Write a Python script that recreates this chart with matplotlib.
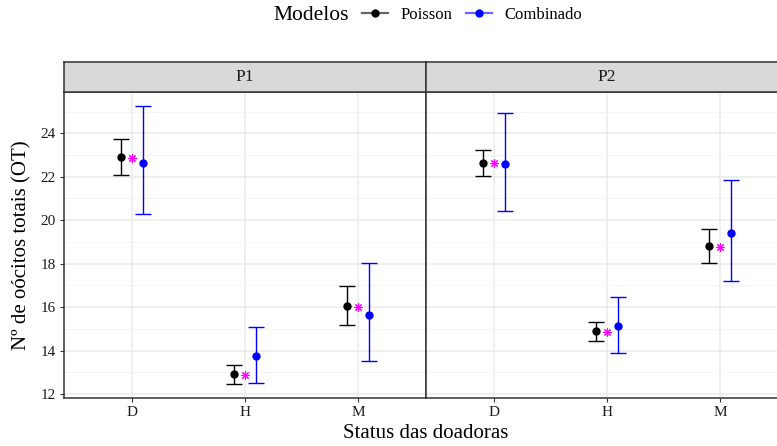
import matplotlib
matplotlib.use("Agg")
import matplotlib.pyplot as plt
from matplotlib.lines import Line2D
import numpy as np

plt.rcParams['font.family'] = ['Liberation Serif', 'DejaVu Serif']

# Categories and panels
categories = ["D", "H", "M"]
panels = ["P1", "P2"]

# Poisson model: estimate and interval per panel
poisson_est = {"P1": [22.91, 12.91, 16.06], "P2": [22.65, 14.90, 18.80]}
poisson_low = {"P1": [22.10, 12.46, 15.16], "P2": [22.05, 14.44, 18.04]}
poisson_high = {"P1": [23.72, 13.33, 16.98], "P2": [23.22, 15.30, 19.59]}

# Combined model: estimate and interval per panel
comb_est = {"P1": [22.64, 13.75, 15.62], "P2": [22.57, 15.13, 19.39]}
comb_low = {"P1": [20.28, 12.52, 13.53], "P2": [20.41, 13.90, 17.20]}
comb_high = {"P1": [25.26, 15.08, 18.04], "P2": [24.93, 16.49, 21.85]}

# Observed means
observed = {"P1": [22.88, 12.89, 16.03], "P2": [22.62, 14.86, 18.79]}

W, H = 777, 446
fig = plt.figure(figsize=(W / 100, H / 100), dpi=100)

def fx(px):
    return px / W

def fy(py):
    return 1 - py / H

panel_left = [64, 426]
panel_w = 362
panel_top, panel_bot = 92, 398
strip_top = 62

all_vals = sum([poisson_low[p] + poisson_high[p] + comb_low[p] + comb_high[p] for p in panels], [])
vmin, vmax = min(all_vals), max(all_vals)
pad = 0.05 * (vmax - vmin)
ylim = (vmin - pad, vmax + pad)

border = "#333333"
tick_col = "#1a1a1a"
x = np.arange(1, len(categories) + 1)
off = 0.1
cap = 5.5

for i, p in enumerate(panels):
    ax = fig.add_axes([fx(panel_left[i]), fy(panel_bot), fx(panel_w), (panel_bot - panel_top) / H])
    ax.set_xlim(0.4, 3.6)
    ax.set_ylim(*ylim)
    ax.set_xticks(x)
    ax.set_xticklabels(categories)
    ax.set_yticks([12, 14, 16, 18, 20, 22, 24])
    ax.set_yticks([13, 15, 17, 19, 21, 23, 25], minor=True)
    ax.grid(which='major', color='#EBEBEB', linewidth=1.1, zorder=0)
    ax.grid(which='minor', axis='y', color='#F3F3F3', linewidth=0.6, zorder=0)
    ax.set_axisbelow(True)
    for s in ax.spines.values():
        s.set_color(border)
        s.set_linewidth(1.1)
    ax.tick_params(axis='both', which='major', length=3, width=0.8, color=border,
                   labelsize=11, labelcolor=tick_col, pad=3)
    ax.tick_params(axis='both', which='minor', length=0)
    if i > 0:
        ax.tick_params(axis='y', which='both', left=False, labelleft=False)

    pe = np.array(poisson_est[p])
    ax.errorbar(x - off, pe, yerr=[pe - np.array(poisson_low[p]), np.array(poisson_high[p]) - pe],
                fmt='o', color='black', ecolor='black', elinewidth=1.0, capsize=cap,
                capthick=1.0, markersize=5, zorder=3)
    ce = np.array(comb_est[p])
    ax.errorbar(x + off, ce, yerr=[ce - np.array(comb_low[p]), np.array(comb_high[p]) - ce],
                fmt='o', color='#0000FF', ecolor='#0000FF', elinewidth=1.0, capsize=cap,
                capthick=1.0, markersize=5, zorder=3)
    ax.plot(x, observed[p], linestyle='none', marker=(8, 2, 0), color='#FF00FF',
            markersize=6, markeredgewidth=0.8, zorder=3)

    # facet strip
    sax = fig.add_axes([fx(panel_left[i]), fy(panel_top), fx(panel_w), (panel_top - strip_top) / H])
    sax.set_facecolor('#D9D9D9')
    sax.set_xticks([])
    sax.set_yticks([])
    for s in sax.spines.values():
        s.set_color(border)
        s.set_linewidth(1.1)
    sax.text(0.5, 0.5, p, ha='center', va='center', fontsize=12.5, color='#1a1a1a',
             transform=sax.transAxes)

# axis titles
fig.text(fx(426), fy(434), "Status das doadoras", ha='center', va='center', fontsize=15)
fig.text(fx(22), fy(245), "Nº de oócitos totais (OT)", ha='center', va='center',
         rotation=90, fontsize=15)

# legend
fig.text(fx(311), fy(15), "Modelos", ha='center', va='center', fontsize=15.5)
handles = [
    Line2D([0], [0], color=(0, 0, 0, 0.6), marker='o', markersize=5, linewidth=1.6,
           markerfacecolor='black', markeredgecolor='black'),
    Line2D([0], [0], color=(0, 0, 1, 0.6), marker='o', markersize=5, linewidth=1.6,
           markerfacecolor='#0000FF', markeredgecolor='#0000FF'),
]
fig.legend(handles, ["Poisson", "Combinado"], loc='center left',
           bbox_to_anchor=(fx(362), fy(15)), ncol=2, frameon=False,
           fontsize=12, handlelength=1.55, handletextpad=0.75,
           columnspacing=0.85, borderpad=0, borderaxespad=0)

fig.savefig("out.png", dpi=100)
